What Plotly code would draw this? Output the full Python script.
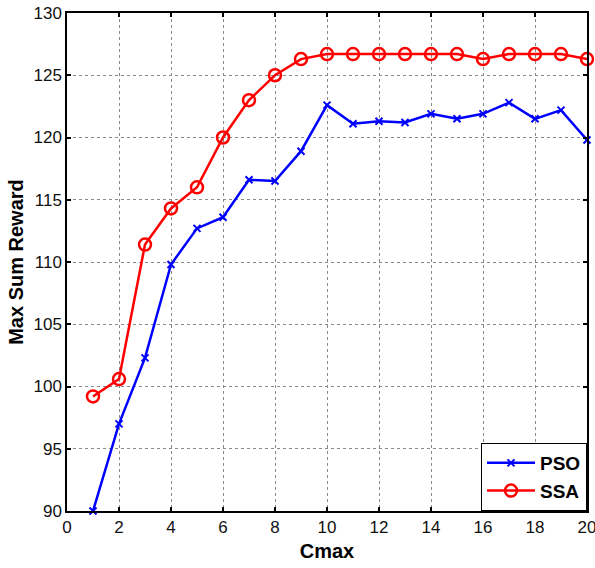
import plotly.graph_objects as go

cmax = list(range(1, 21))
pso = [90.0, 97.0, 102.3, 109.8, 112.7, 113.6, 116.6, 116.5, 118.9, 122.6,
       121.1, 121.3, 121.2, 121.9, 121.5, 121.9, 122.8, 121.5, 122.2, 119.8]
ssa = [99.2, 100.6, 111.4, 114.3, 116.0, 120.0, 123.0, 125.0, 126.3, 126.7,
       126.7, 126.7, 126.7, 126.7, 126.7, 126.3, 126.7, 126.7, 126.7, 126.3]

x_ticks = list(range(0, 21, 2))
y_ticks = list(range(90, 131, 5))

fig = go.Figure()
fig.add_trace(go.Scatter(
    x=cmax, y=pso, name="<b>PSO</b>", mode="lines+markers",
    line=dict(color="#0000ff", width=2.5),
    marker=dict(symbol="x-thin", size=7, color="#0000ff",
                line=dict(color="#0000ff", width=2)),
    cliponaxis=False))
fig.add_trace(go.Scatter(
    x=cmax, y=ssa, name="<b>SSA</b>", mode="lines+markers",
    line=dict(color="#ff0000", width=2.5),
    marker=dict(symbol="circle-open", size=12, color="#ff0000",
                line=dict(color="#ff0000", width=2.5)),
    cliponaxis=False))

axis_common = dict(
    showline=True, linecolor="black", linewidth=1.5, mirror="ticks",
    ticks="inside", ticklen=4, tickcolor="black", tickwidth=1.5,
    showgrid=True, gridcolor="#8a8a8a", gridwidth=1, griddash="dot",
    zeroline=False, automargin=False, ticklabeloverflow="allow",
    tickfont=dict(family="Liberation Sans, Arial", size=17, color="#111"),
)

fig.update_layout(
    width=595, height=568,
    margin=dict(l=67, r=8, t=13, b=57),
    paper_bgcolor="white", plot_bgcolor="white",
    xaxis=dict(range=[0, 20], tickvals=x_ticks,
               title=dict(text="<b>Cmax</b>", standoff=8,
                          font=dict(family="Liberation Sans, Arial", size=20, color="black")),
               **axis_common),
    yaxis=dict(range=[90, 130], tickvals=y_ticks,
               title=dict(text="<b>Max Sum Reward</b>", standoff=4,
                          font=dict(family="Liberation Sans, Arial", size=20, color="black")),
               **axis_common),
    legend=dict(x=1, y=0, xanchor="right", yanchor="bottom",
                bgcolor="white", bordercolor="black", borderwidth=1,
                font=dict(family="Liberation Sans, Arial", size=19, color="black"),
                itemwidth=48, tracegroupgap=4),
    showlegend=True,
)

fig.write_html("out.html")
